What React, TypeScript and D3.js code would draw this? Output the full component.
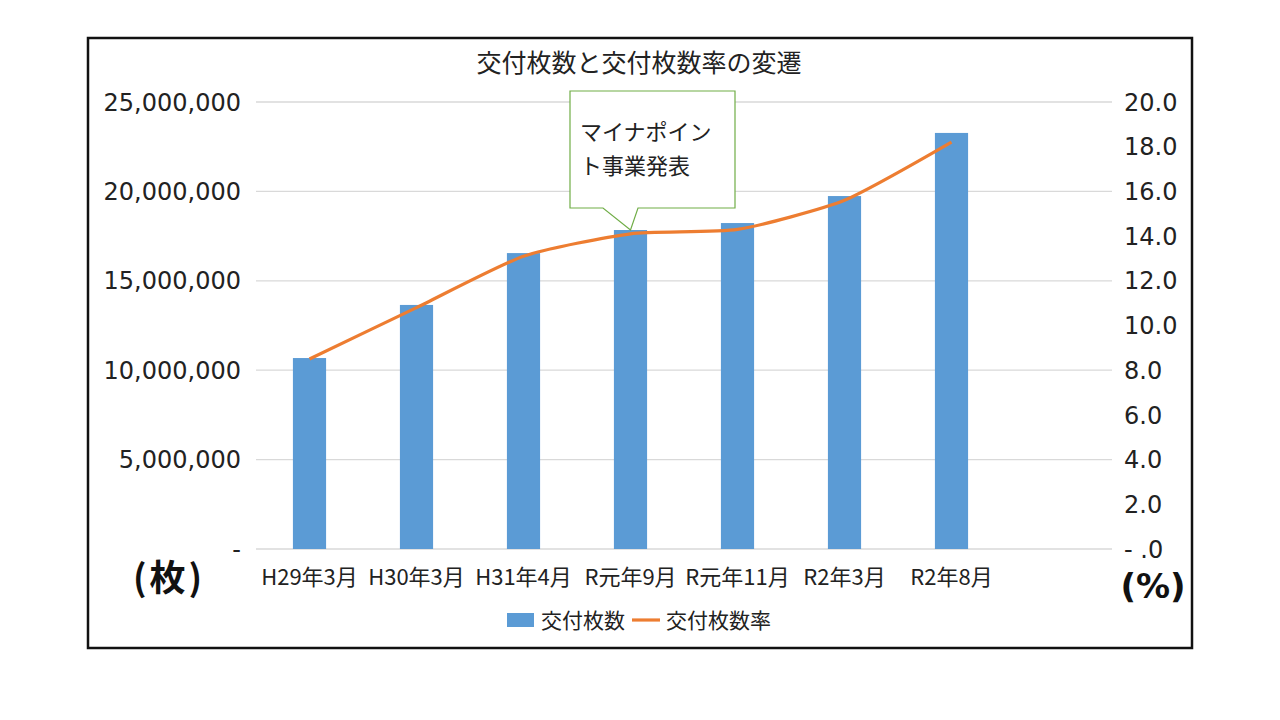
import { useEffect, useRef } from 'react'
import * as d3 from 'd3'

// data
const categories = ['H29年3月', 'H30年3月', 'H31年4月', 'R元年9月', 'R元年11月', 'R2年3月', 'R2年8月']
const issuedCounts = [10680000, 13650000, 16550000, 17840000, 18230000, 19740000, 23270000]
const issuedRates = [8.5, 10.8, 13.1, 14.1, 14.3, 15.6, 18.2]
const leftTicks = [0, 5000000, 10000000, 15000000, 20000000, 25000000]
const rightTicks = [0, 2, 4, 6, 8, 10, 12, 14, 16, 18, 20]
const calloutIndex = 3
const calloutLines = ['マイナポイン', 'ト事業発表']
const seriesNames = ['交付枚数', '交付枚数率']
const chartTitle = '交付枚数と交付枚数率の変遷'
// the chart keeps one empty slot at the right end of the category axis
const emptySlot = ''

const JP = '"Noto Sans CJK JP", "Noto Sans", sans-serif'
const NUM = '"DejaVu Sans", sans-serif'

const App = () => {
  const svgRef = useRef<SVGSVGElement | null>(null)

  useEffect(() => {
    if (!svgRef.current) return
    const svg = d3.select(svgRef.current)
    svg.selectAll('*').remove()

    const width = 1280
    const height = 720
    const plot = { left: 256, right: 1112, top: 102, bottom: 549 }

    svg.attr('width', width).attr('height', height)
    svg.append('rect').attr('width', width).attr('height', height).attr('fill', 'white')

    // outer frame
    svg
      .append('rect')
      .attr('x', 88)
      .attr('y', 38)
      .attr('width', 1104)
      .attr('height', 610)
      .attr('fill', 'white')
      .attr('stroke', '#111')
      .attr('stroke-width', 2.5)

    const x = d3
      .scaleBand<string>()
      .domain([...categories, emptySlot])
      .range([plot.left, plot.right])
      .paddingInner(0.69)
      .paddingOuter(0.345)

    const yLeft = d3.scaleLinear().domain([0, 25000000]).range([plot.bottom, plot.top])
    const yRight = d3.scaleLinear().domain([0, 20]).range([plot.bottom, plot.top])

    // gridlines
    svg
      .append('g')
      .selectAll('line')
      .data(leftTicks)
      .join('line')
      .attr('x1', plot.left)
      .attr('x2', plot.right)
      .attr('y1', (d) => yLeft(d))
      .attr('y2', (d) => yLeft(d))
      .attr('stroke', '#d9d9d9')
      .attr('stroke-width', 1.3)

    // left axis labels
    svg
      .append('g')
      .selectAll('text')
      .data(leftTicks)
      .join('text')
      .attr('x', 241)
      .attr('y', (d) => yLeft(d))
      .attr('dy', '0.36em')
      .attr('text-anchor', 'end')
      .attr('font-family', NUM)
      .attr('font-size', 24)
      .attr('fill', '#222')
      .text((d) => (d === 0 ? '-' : d3.format(',')(d)))

    // right axis labels
    svg
      .append('g')
      .selectAll('text')
      .data(rightTicks)
      .join('text')
      .attr('x', 1124)
      .attr('y', (d) => yRight(d))
      .attr('dy', '0.36em')
      .attr('text-anchor', 'start')
      .attr('font-family', NUM)
      .attr('font-size', 24)
      .attr('fill', '#222')
      .text((d) => (d === 0 ? '- .0' : d.toFixed(1)))

    // bars
    svg
      .append('g')
      .selectAll('rect')
      .data(issuedCounts)
      .join('rect')
      .attr('x', (_, i) => x(categories[i])!)
      .attr('y', (d) => yLeft(d))
      .attr('width', x.bandwidth())
      .attr('height', (d) => plot.bottom - yLeft(d))
      .attr('fill', '#5B9BD5')

    // rate line (smoothed like the spreadsheet's line)
    const line = d3
      .line<number>()
      .x((_, i) => x(categories[i])! + x.bandwidth() / 2)
      .y((d) => yRight(d))
      .curve(d3.curveCardinal.tension(0.4))

    svg
      .append('path')
      .datum(issuedRates)
      .attr('fill', 'none')
      .attr('stroke', '#ED7D31')
      .attr('stroke-width', 3.2)
      .attr('stroke-linejoin', 'round')
      .attr('d', line)

    // x labels
    svg
      .append('g')
      .selectAll('text')
      .data(categories)
      .join('text')
      .attr('x', (d) => x(d)! + x.bandwidth() / 2)
      .attr('y', 577)
      .attr('dy', '0.36em')
      .attr('text-anchor', 'middle')
      .attr('font-family', JP)
      .attr('font-size', 22)
      .attr('fill', '#222')
      .text((d) => d)

    // unit labels
    svg
      .append('text')
      .attr('x', 169)
      .attr('y', 578)
      .attr('dy', '0.36em')
      .attr('text-anchor', 'middle')
      .attr('font-family', JP)
      .attr('font-size', 36)
      .attr('font-weight', 'bold')
      .attr('letter-spacing', 3)
      .attr('fill', '#111')
      .text('(枚)')

    svg
      .append('text')
      .attr('x', 1153)
      .attr('y', 598)
      .attr('text-anchor', 'middle')
      .attr('font-family', NUM)
      .attr('font-size', 34)
      .attr('font-weight', 'bold')
      .attr('fill', '#111')
      .text('(%)')

    // title
    svg
      .append('text')
      .attr('x', 639)
      .attr('y', 63)
      .attr('dy', '0.36em')
      .attr('text-anchor', 'middle')
      .attr('font-family', JP)
      .attr('font-size', 25)
      .attr('fill', '#222')
      .text(chartTitle)

    // callout pointing at the R元年9月 bar
    const tipX = x(categories[calloutIndex])! + x.bandwidth() / 2
    const tipY = yLeft(issuedCounts[calloutIndex])
    const box = { x0: 570, x1: 735, y0: 91, y1: 208 }
    const callout = d3.path()
    callout.moveTo(box.x0, box.y0)
    callout.lineTo(box.x1, box.y0)
    callout.lineTo(box.x1, box.y1)
    callout.lineTo(638, box.y1)
    callout.lineTo(tipX, tipY)
    callout.lineTo(603, box.y1)
    callout.lineTo(box.x0, box.y1)
    callout.closePath()
    svg
      .append('path')
      .attr('d', callout.toString())
      .attr('fill', 'white')
      .attr('stroke', '#70AD47')
      .attr('stroke-width', 1.2)

    svg
      .append('g')
      .selectAll('text')
      .data(calloutLines)
      .join('text')
      .attr('x', 580)
      .attr('y', (_, i) => 132 + i * 34)
      .attr('dy', '0.36em')
      .attr('font-family', JP)
      .attr('font-size', 22)
      .attr('fill', '#222')
      .text((d) => d)

    // legend
    const legend = svg.append('g')
    legend
      .append('rect')
      .attr('x', 507)
      .attr('y', 613)
      .attr('width', 27)
      .attr('height', 14)
      .attr('fill', '#5B9BD5')
    legend
      .append('text')
      .attr('x', 541)
      .attr('y', 620)
      .attr('dy', '0.36em')
      .attr('font-family', JP)
      .attr('font-size', 21)
      .attr('fill', '#222')
      .text(seriesNames[0])
    legend
      .append('line')
      .attr('x1', 632)
      .attr('x2', 660)
      .attr('y1', 620)
      .attr('y2', 620)
      .attr('stroke', '#ED7D31')
      .attr('stroke-width', 3.2)
    legend
      .append('text')
      .attr('x', 666)
      .attr('y', 620)
      .attr('dy', '0.36em')
      .attr('font-family', JP)
      .attr('font-size', 21)
      .attr('fill', '#222')
      .text(seriesNames[1])
  }, [])

  return <svg ref={svgRef} style={{ position: 'absolute', left: 0, top: 0 }}></svg>
}

export default App
